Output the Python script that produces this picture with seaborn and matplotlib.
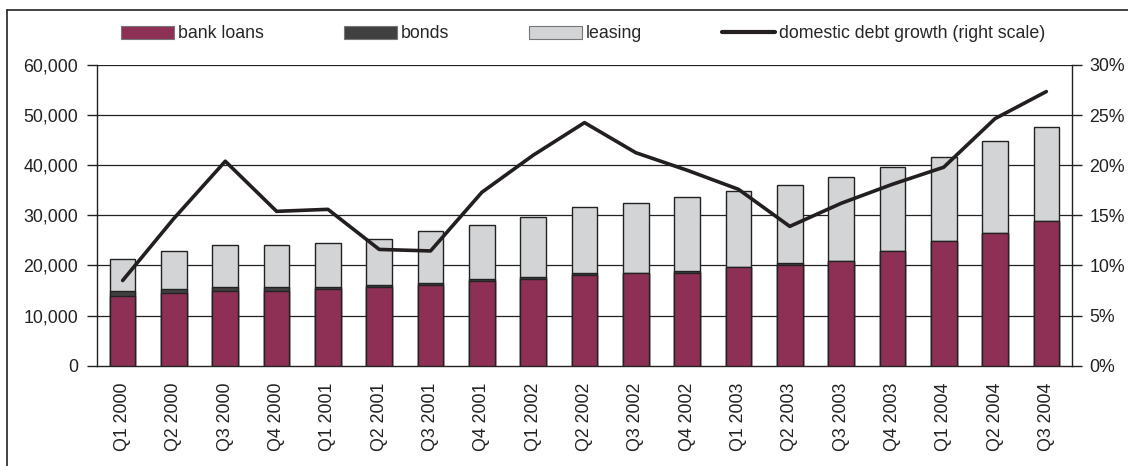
import matplotlib
matplotlib.use("Agg")
import matplotlib.pyplot as plt
import seaborn as sns
import numpy as np
import pandas as pd
from matplotlib.lines import Line2D
from matplotlib.patches import Patch
from matplotlib.ticker import FuncFormatter, MultipleLocator

quarters = ["Q1 2000", "Q2 2000", "Q3 2000", "Q4 2000",
            "Q1 2001", "Q2 2001", "Q3 2001", "Q4 2001",
            "Q1 2002", "Q2 2002", "Q3 2002", "Q4 2002",
            "Q1 2003", "Q2 2003", "Q3 2003", "Q4 2003",
            "Q1 2004", "Q2 2004", "Q3 2004"]
bank_loans = [13970, 14440, 14840, 14840, 15240, 15640, 16040, 16880, 17280, 18080,
              18480, 18480, 19670, 20070, 20830, 22820, 24820, 26410, 28810]
bonds = [930, 800, 800, 800, 400, 460, 400, 400, 400, 400,
         60, 400, 60, 400, 60, 60, 60, 60, 60]
totals = [21230, 22820, 24020, 24020, 24420, 25220, 26810, 28070, 29670, 31660,
          32400, 33660, 34790, 35990, 37590, 39580, 41580, 44770, 47560]
leasing = [t - b - d for t, b, d in zip(totals, bank_loans, bonds)]
growth = [8.5, 14.7, 20.4, 15.4, 15.6, 11.6, 11.45, 17.3, 21.0, 24.25,
          21.25, 19.5, 17.6, 13.9, 16.2, 18.1, 19.8, 24.65, 27.35]

c_bank = "#8E3056"
c_bonds = "#404040"
c_leasing = "#D3D4D6"
c_edge = "#222222"

sns.set_style("white")
plt.rcParams["font.family"] = ["Liberation Sans", "DejaVu Sans"]
plt.rcParams["font.size"] = 12.8

df = pd.DataFrame({
    "quarter": quarters,
    "bank": bank_loans,
    "bank_bonds": [b + d for b, d in zip(bank_loans, bonds)],
    "total": [b + d + l for b, d, l in zip(bank_loans, bonds, leasing)],
    "growth": growth,
})

fig = plt.figure(figsize=(11.28, 4.66), dpi=100)
ax = fig.add_axes([97 / 1128, 1 - 365.7 / 466, (1072 - 97) / 1128, (365.7 - 65) / 466])

ax.set_axisbelow(True)
for y in range(10000, 60001, 10000):
    ax.axhline(y, color=c_edge, lw=0.9, zorder=0)

bw = 0.5
sns.barplot(data=df, x="quarter", y="total", color=c_leasing, width=bw,
            edgecolor=c_edge, linewidth=1.0, saturation=1, ax=ax, zorder=2)
sns.barplot(data=df, x="quarter", y="bank_bonds", color=c_bonds, width=bw,
            edgecolor=c_edge, linewidth=1.0, saturation=1, ax=ax, zorder=3)
sns.barplot(data=df, x="quarter", y="bank", color=c_bank, width=bw,
            edgecolor=c_edge, linewidth=1.0, saturation=1, ax=ax, zorder=4)

ax.set_ylim(0, 60000)
ax.set_xlim(-0.5, len(quarters) - 0.5)
ax.yaxis.set_major_locator(MultipleLocator(10000))
ax.yaxis.set_major_formatter(FuncFormatter(lambda v, p: f"{int(v):,}"))
ax.set_xlabel("")
ax.set_ylabel("")
ax.set_xticks(range(len(quarters)))
ax.set_xticklabels(quarters, rotation=90)
ax.set_xticks(np.arange(-0.5, len(quarters), 1.0), minor=True)
ax.tick_params(axis="x", which="major", length=0, pad=12, labelsize=12.8, colors="#222222")
ax.tick_params(axis="x", which="minor", length=7, width=1.0, direction="out", color=c_edge)
ax.tick_params(axis="y", which="major", length=7, width=1.0, direction="out", pad=6.5,
               labelsize=12.8, left=True, color=c_edge, labelcolor="#222222")
for s in ["top", "right"]:
    ax.spines[s].set_visible(False)
for s in ["left", "bottom"]:
    ax.spines[s].set_color(c_edge)
    ax.spines[s].set_linewidth(1.0)

ax2 = ax.twinx()
sns.lineplot(x=np.arange(len(quarters)), y=df["growth"], color="#231F20", lw=2.6,
             ax=ax2, zorder=5, sort=False)
ax2.set_ylim(0, 30)
ax2.set_xlim(-0.5, len(quarters) - 0.5)
ax2.yaxis.set_major_locator(MultipleLocator(5))
ax2.yaxis.set_major_formatter(FuncFormatter(lambda v, p: f"{int(v)}%"))
ax2.set_ylabel("")
ax2.tick_params(axis="y", length=7, width=1.0, direction="out", pad=5.5, labelsize=12.8,
                right=True, color=c_edge, labelcolor="#222222")
for s in ["top", "left", "bottom"]:
    ax2.spines[s].set_visible(False)
ax2.spines["right"].set_color(c_edge)
ax2.spines["right"].set_linewidth(1.0)

handles = [
    Patch(facecolor=c_bank, edgecolor="#777777", linewidth=0.8, label="bank loans"),
    Patch(facecolor=c_bonds, edgecolor="#777777", linewidth=0.8, label="bonds"),
    Patch(facecolor=c_leasing, edgecolor="#777777", linewidth=0.8, label="leasing"),
    Line2D([0], [0], color="#231F20", lw=3, label="domestic debt growth (right scale)"),
]
fig.legend(handles=handles, loc="center", bbox_to_anchor=(583 / 1128, 1 - 34 / 466),
           ncol=4, frameon=False, handlelength=3.0, handleheight=0.75,
           handletextpad=0.2, columnspacing=4.5, fontsize=12.8, borderaxespad=0)

# figure border (open at right and bottom as in the reference)
fig.add_artist(Line2D([7 / 1128, 7 / 1128], [0, 1 - 10 / 466], transform=fig.transFigure,
                      color="#222222", lw=1.2))
fig.add_artist(Line2D([7 / 1128, 1], [1 - 10 / 466, 1 - 10 / 466], transform=fig.transFigure,
                      color="#222222", lw=1.2))

fig.savefig("out.png", dpi=100)
